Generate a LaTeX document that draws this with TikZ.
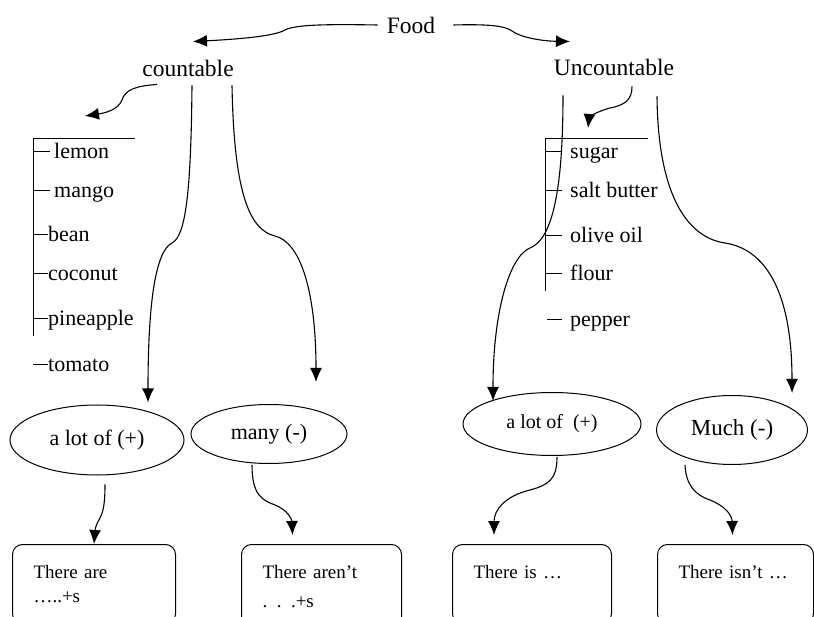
\documentclass[tikz,border=0pt]{standalone}
\usepackage{fontspec}
\setmainfont{Liberation Serif}
\usetikzlibrary{arrows.meta,shapes.geometric}
\tikzset{
    x=1pt, y=-1pt, % one unit is one pixel of the sketch, y runs downwards
    }

\begin{document}
\begin{tikzpicture}[
wordnode/.style={font=\fontsize{23.5}{26}\selectfont, inner sep=2pt},
itemnode/.style={font=\fontsize{22}{26}\selectfont, anchor=west, inner sep=0pt, text height=18pt, text depth=4pt},
ovalnode/.style={ellipse, draw, line width=1pt, inner sep=0pt, font=\fontsize{22}{26}\selectfont},
boxnode/.style={draw, line width=1pt, rounded corners=10pt, anchor=north west, align=left, inner xsep=21pt, inner ysep=21pt, font=\fontsize{19}{22}\selectfont},
link/.style={line width=1.1pt, -{Latex[length=14pt,width=12pt]}},
rule/.style={line width=1pt},
]
\useasboundingbox (0,0) rectangle (814,617);

\node[wordnode] (food) at (411,25) {Food};
\node[wordnode] (count) at (188,68) {countable};
\node[wordnode] (uncount) at (614,67) {Uncountable};

% countable list
\coordinate (ltop) at (33,139);
\coordinate (ltip) at (85,116);
\node[itemnode] (lemon) at (54,152) {lemon};
\node[itemnode] (mango) at (54,191) {mango};
\node[itemnode] (bean) at (48,235) {bean};
\node[itemnode] (coconut) at (48,274) {coconut};
\node[itemnode] (pineapple) at (48,319) {pineapple};
\node[itemnode] (tomato) at (48,365) {tomato};
\draw[rule] (33,336) -- (ltop) -- (135,139);
\draw[rule] (ltop |- lemon.west) -- ++(17,0);
\draw[rule] (ltop |- mango.west) -- ++(17,0);
\draw[rule] (ltop |- bean.west) -- (bean.west);
\draw[rule] (ltop |- coconut.west) -- (coconut.west);
\draw[rule] (ltop |- pineapple.west) -- (pineapple.west);
\draw[rule] (ltop |- tomato.west) -- (tomato.west);

% uncountable list
\coordinate (rtop) at (545,139);
\coordinate (rtip) at (588,128);
\node[itemnode] (sugar) at (570,152) {sugar};
\node[itemnode] (salt) at (570,191) {salt butter};
\node[itemnode] (olive) at (570,236) {olive oil};
\node[itemnode] (flour) at (570,274) {flour};
\node[itemnode] (pepper) at (570,320) {pepper};
\draw[rule] (545,291) -- (rtop) -- (648,139);
\draw[rule] (rtop |- sugar.west) -- ++(17,0);
\draw[rule] (rtop |- salt.west) -- ++(17,0);
\draw[rule] (rtop |- olive.west) -- ++(17,0);
\draw[rule] (rtop |- flour.west) -- ++(17,0);
\draw[rule] ([xshift=2pt]rtop |- pepper.west) -- ++(15,0);

% quantifiers
\node[ovalnode, minimum width=174pt, minimum height=70pt] (alotC) at (97,440) {a lot of (+)};
\node[ovalnode, minimum width=156pt, minimum height=59pt] (many) at (269,434) {many (-)};
\node[ovalnode, minimum width=178pt, minimum height=63pt, font=\fontsize{20}{24}\selectfont] (alotU) at (552,424) {a lot of~ (+)};
\node[ovalnode, minimum width=151pt, minimum height=69pt, font=\fontsize{23}{26}\selectfont] (much) at (732,430) {Much (-)};

% sentences
\node[boxnode, text width=121pt] (areBox) at (12,544) {There are\\[2pt]…..+s};
\node[boxnode, text width=118pt] (arentBox) at (241,544) {There aren’t\\[7pt]. . .+s};
\node[boxnode, text width=117pt] (isBox) at (452,544) {There is …\\[2pt]~};
\node[boxnode, text width=114pt] (isntBox) at (657,544) {There isn’t …\\[2pt]~};

% arrows
\draw[link] ([xshift=-7pt]food.west) .. controls (320,24) and (295,25) .. (285,30) .. controls (278,34) and (260,38) .. ([xshift=5pt,yshift=16pt]count.north);
\draw[link] ([xshift=16pt]food.east) .. controls (490,24) and (505,26) .. (512,31) .. controls (520,37) and (540,41) .. ([xshift=-44pt,yshift=15pt]uncount.north);
\draw[link] ([xshift=-31pt,yshift=-6pt]count.south) .. controls (135,86) and (125,90) .. (122,100) .. controls (118,110) and (105,113) .. (ltip);
\draw[link] ([xshift=18pt,yshift=-9pt]uncount.south) .. controls (632,100) and (625,105) .. (610,108) .. controls (595,112) and (589,118) .. (rtip);

\draw[link] ([xshift=4pt,yshift=-7pt]count.south) .. controls (191,190) and (186,236) .. (172,243) .. controls (156,251) and (148,300) .. ([xshift=51pt,yshift=2pt]alotC.north);
\draw[link] ([xshift=44pt,yshift=-7pt]count.south) .. controls (234,195) and (250,230) .. (275,236) .. controls (300,242) and (316,290) .. ([xshift=47pt,yshift=22pt]many.north);
\draw[link] ([xshift=-51pt,yshift=-18pt]uncount.south) .. controls (563,200) and (550,240) .. (530,248) .. controls (510,256) and (493,310) .. ([xshift=-59pt,yshift=-9pt]alotU.north);
\draw[link] ([xshift=43pt,yshift=-19pt]uncount.south) .. controls (658,200) and (690,238) .. (725,243) .. controls (770,250) and (792,300) .. ([xshift=60pt,yshift=2pt]much.north);

\draw[link] ([xshift=8pt,yshift=-9pt]alotC.south) .. controls (105,505) and (103,512) .. (100,518) .. controls (96,524) and (95,530) .. (areBox.north);
\draw[link] ([xshift=-17pt,yshift=-1pt]many.south) .. controls (252,495) and (262,500) .. (275,505) .. controls (288,510) and (292,520) .. ([xshift=-29pt,yshift=9pt]arentBox.north);
\draw[link] ([xshift=5pt,yshift=-1pt]alotU.south) .. controls (557,480) and (548,485) .. (530,490) .. controls (505,496) and (494,510) .. ([xshift=-38pt,yshift=9pt]isBox.north);
\draw[link] ([xshift=-47pt]much.south) .. controls (686,485) and (695,495) .. (710,500) .. controls (725,506) and (732,515) .. ([xshift=-3pt,yshift=9pt]isntBox.north);
\end{tikzpicture}
\end{document}
